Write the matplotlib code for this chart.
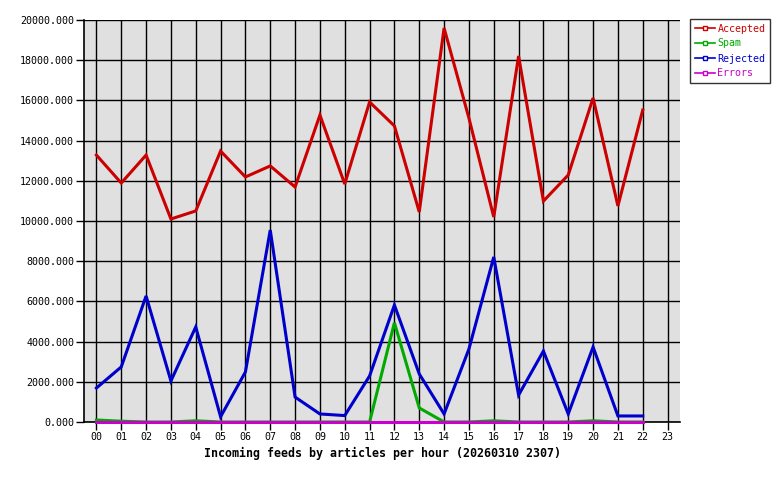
import numpy as np
import matplotlib
matplotlib.use('Agg')
import matplotlib.pyplot as plt
from matplotlib.lines import Line2D

hours = ['00', '01', '02', '03', '04', '05', '06', '07', '08', '09', '10', '11',
         '12', '13', '14', '15', '16', '17', '18', '19', '20', '21', '22', '23']

accepted = [13280, 11890, 13280, 10100, 10500, 13480, 12190, 12740, 11690, 15270,
            11840, 15920, 14730, 10450, 19600, 15120, 10200, 18210, 10990, 12290,
            16120, 10750, 15520]
spam = [100, 40, 0, 0, 60, 0, 0, 0, 0, 0, 0, 0,
        4940, 700, 0, 0, 60, 0, 0, 0, 60, 0, 0]
rejected = [1690, 2740, 6270, 2040, 4730, 260, 2490, 9550, 1240, 400,
            320, 2290, 5820, 2390, 400, 3630, 8210, 1340, 3530, 400,
            3730, 300, 300]
errors = [0] * 23

series = [('Accepted', accepted, '#cc0000'),
          ('Spam', spam, '#00aa00'),
          ('Rejected', rejected, '#0000cc'),
          ('Errors', errors, '#cc00cc')]

plt.rcParams['font.family'] = 'DejaVu Sans Mono'

fig = plt.figure(figsize=(7.8, 4.8), dpi=100)
ax = fig.add_axes([84 / 780, 58 / 480, 596 / 780, 402 / 480])
ax.set_facecolor('#e0e0e0')

x = np.arange(len(accepted))
for name, vals, col in series:
    ax.plot(x, vals, color=col, lw=2.2, solid_joinstyle='miter', zorder=3,
            clip_on=False)

ax.set_xlim(-0.5, 23.5)
ax.set_ylim(0, 20000)
ax.set_xticks(np.arange(24))
ax.set_xticklabels(hours)
ax.set_yticks(np.arange(0, 20001, 2000))
ax.set_yticklabels(['%.3f' % v for v in np.arange(0, 20001, 2000)])
ax.grid(True, color='black', lw=1.0, zorder=1)
ax.set_axisbelow(True)
ax.tick_params(axis='both', direction='out', length=5.5, width=1, color='black',
               labelsize=7.2)
ax.tick_params(axis='y', pad=1.5)
ax.tick_params(axis='x', pad=2)
for s in ['top', 'right']:
    ax.spines[s].set_visible(False)
for s in ['left', 'bottom']:
    ax.spines[s].set_linewidth(1.2)

ax.set_xlabel('Incoming feeds by articles per hour (20260310 2307)',
              fontsize=8.4, fontweight='bold', labelpad=3)

handles = [Line2D([0], [0], color=col, lw=1.2, marker='s', markersize=3,
                  markerfacecolor='white', markeredgecolor=col, label=name)
           for name, vals, col in series]
leg = fig.legend(handles=handles, loc='upper left',
                 bbox_to_anchor=(690 / 780, 1 - 19 / 480),
                 frameon=True, fancybox=False, edgecolor='black',
                 fontsize=7.2, labelcolor='linecolor', handlelength=2.0,
                 handletextpad=0.3, borderpad=0.45, labelspacing=0.5,
                 borderaxespad=0)
leg.get_frame().set_linewidth(1.0)

fig.savefig('out.png', dpi=100)
